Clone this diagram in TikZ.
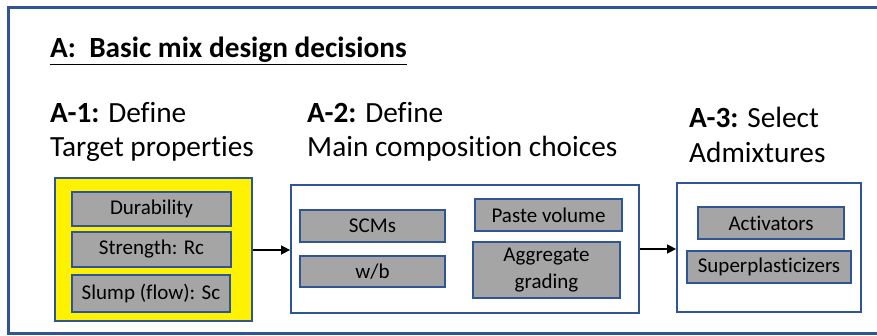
\documentclass[tikz,border=0pt]{standalone}
\usepackage{fontspec}
\setmainfont{Carlito}[Ligatures=NoCommon]
\usetikzlibrary{arrows.meta}
\definecolor{frameblue}{HTML}{2F5597}
\definecolor{boxgray}{HTML}{A5A5A5}
\begin{document}
\begin{tikzpicture}[x=1pt,y=-1pt,
  item/.style={draw=frameblue,line width=1.8pt,fill=boxgray,inner sep=0pt,font=\fontsize{21}{24}\selectfont,align=center},
  group/.style={draw=frameblue,line width=1.8pt,inner sep=0pt},
  head/.style={anchor=base west,inner sep=0pt,font=\fontsize{29.3}{35}\selectfont,align=left},
  conn/.style={-{Triangle[length=9pt,width=9pt]},line width=1.5pt}]
\useasboundingbox (0,0) rectangle (877,336);
\begin{scope}
\clip (0,0) rectangle (877,336);
\draw[frameblue,line width=3pt] (886,8) -- (8,8) -- (8,333) -- (886,333);
\end{scope}
\node[head,font=\bfseries\fontsize{29.3}{35}\selectfont] (title) at (50,58) {\underline{A:\ \ Basic mix design decisions}};
\node[head] (h1a) at (50,123) {\textbf{A-1:} Define};
\node[head] (h1b) at (50,157) {Target properties};
\node[head] (h2a) at (307,123) {\textbf{A-2:} Define};
\node[head] (h2b) at (307,157) {Main composition choices};
\node[head] (h3a) at (689,128) {\textbf{A-3:} Select};
\node[head] (h3b) at (689,163) {Admixtures};
% group boxes
\node[group,fill=yellow,minimum width=197pt,minimum height=143pt] (g1) at (153.5,249.5) {};
\node[group,minimum width=348pt,minimum height=128pt] (g2) at (465,249) {};
\node[group,minimum width=184pt,minimum height=129pt] (g3) at (769,247.5) {};
% items
\node[item,minimum width=159pt,minimum height=34pt] (dur) at (151.5,209) {Durability};
\node[item,minimum width=159pt,minimum height=35pt] (str) at (151.5,249.5) {Strength: Rc};
\node[item,minimum width=158pt,minimum height=37pt] (slump) at (151,293.5) {Slump (flow): Sc};
\node[item,minimum width=145pt,minimum height=32pt] (scm) at (372.5,226) {SCMs};
\node[item,minimum width=145pt,minimum height=31pt] (wb) at (372.5,271.5) {w/b};
\node[item,minimum width=147pt,minimum height=32pt] (paste) at (548.5,215) {Paste volume};
\node[item,minimum width=147pt,minimum height=56pt] (agg) at (546.5,270) {Aggregate\\[3pt]grading};
\node[item,minimum width=146pt,minimum height=32pt] (act) at (771,223) {Activators};
\node[item,minimum width=164pt,minimum height=32pt] (sup) at (769,267) {Superplasticizers};
% connectors
\draw[conn] (g1.east |- 0,250) -- (g2.west |- 0,250);
\draw[conn] (g2.east |- 0,249) -- (g3.west |- 0,249);
\end{tikzpicture}
\end{document}
